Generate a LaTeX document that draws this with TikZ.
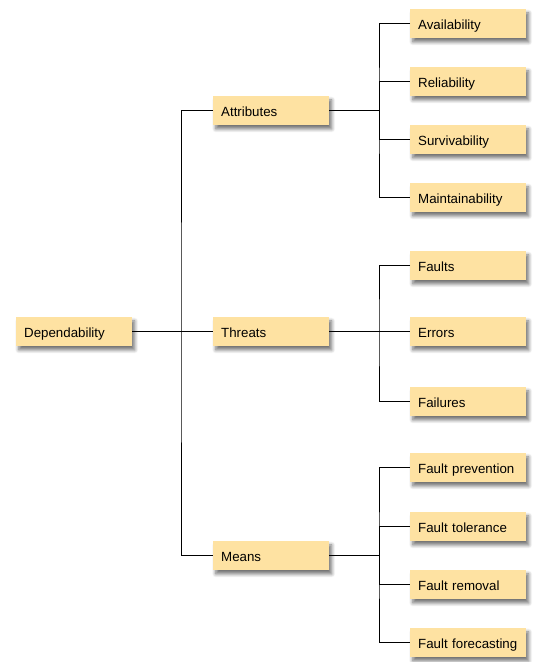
\documentclass[tikz,border=0pt]{standalone}
\usepackage{fontspec}
\setmainfont{Liberation Sans}
\usetikzlibrary{shadows.blur}
\definecolor{boxfill}{HTML}{FEE2A2}
\tikzset{
  item/.style={fill=boxfill, minimum width=116pt, minimum height=29pt,
    text width=100pt, align=left, inner xsep=8pt, inner ysep=0pt,
    text height=12pt, text depth=0pt,
    font=\fontsize{13.3pt}{15pt}\selectfont, anchor=west,
    blur shadow={shadow xshift=2.5pt, shadow yshift=-3.5pt, shadow blur steps=6,
      shadow blur radius=3.5pt, shadow opacity=55}},
  link/.style={draw=black, line width=1pt}
}
\begin{document}
\begin{tikzpicture}[x=1pt,y=1pt]
\useasboundingbox (0,0) rectangle (536,662);
% root and first level
\node[item] (dep) at (16,330) {Dependability};
\node[item] (att) at (213,551) {Attributes};
\node[item] (thr) at (213,330) {Threats};
\node[item] (mea) at (213,106) {Means};
% attributes
\node[item] (a1) at (410,638) {Availability};
\node[item] (a2) at (410,580) {Reliability};
\node[item] (a3) at (410,522) {Survivability};
\node[item] (a4) at (410,464) {Maintainability};
% threats
\node[item] (t1) at (410,396) {Faults};
\node[item] (t2) at (410,330) {Errors};
\node[item] (t3) at (410,260) {Failures};
% means
\node[item] (m1) at (410,194) {Fault prevention};
\node[item] (m2) at (410,135) {Fault tolerance};
\node[item] (m3) at (410,77) {Fault removal};
\node[item] (m4) at (410,19) {Fault forecasting};
% junctions
\coordinate (j0) at (181,330);
\coordinate (ja) at (379,551);
\coordinate (jt) at (379,330);
\coordinate (jm) at (379,106);
% connectors
\draw[link] (dep.east) -- (thr.west);
\draw[link] (att.west) -| (j0) |- (mea.west);
\draw[link] (att.east) -- (ja);
\draw[link] (thr.east) -- (jt);
\draw[link] (mea.east) -- (jm);
\draw[link] (a1.west) -| (ja) |- (a4.west);
\draw[link] (ja) |- (a2.west);
\draw[link] (ja) |- (a3.west);
\draw[link] (t1.west) -| (jt) |- (t3.west);
\draw[link] (jt) -- (t2.west);
\draw[link] (m1.west) -| (jm) |- (m4.west);
\draw[link] (jm) |- (m2.west);
\draw[link] (jm) |- (m3.west);
\end{tikzpicture}
\end{document}
